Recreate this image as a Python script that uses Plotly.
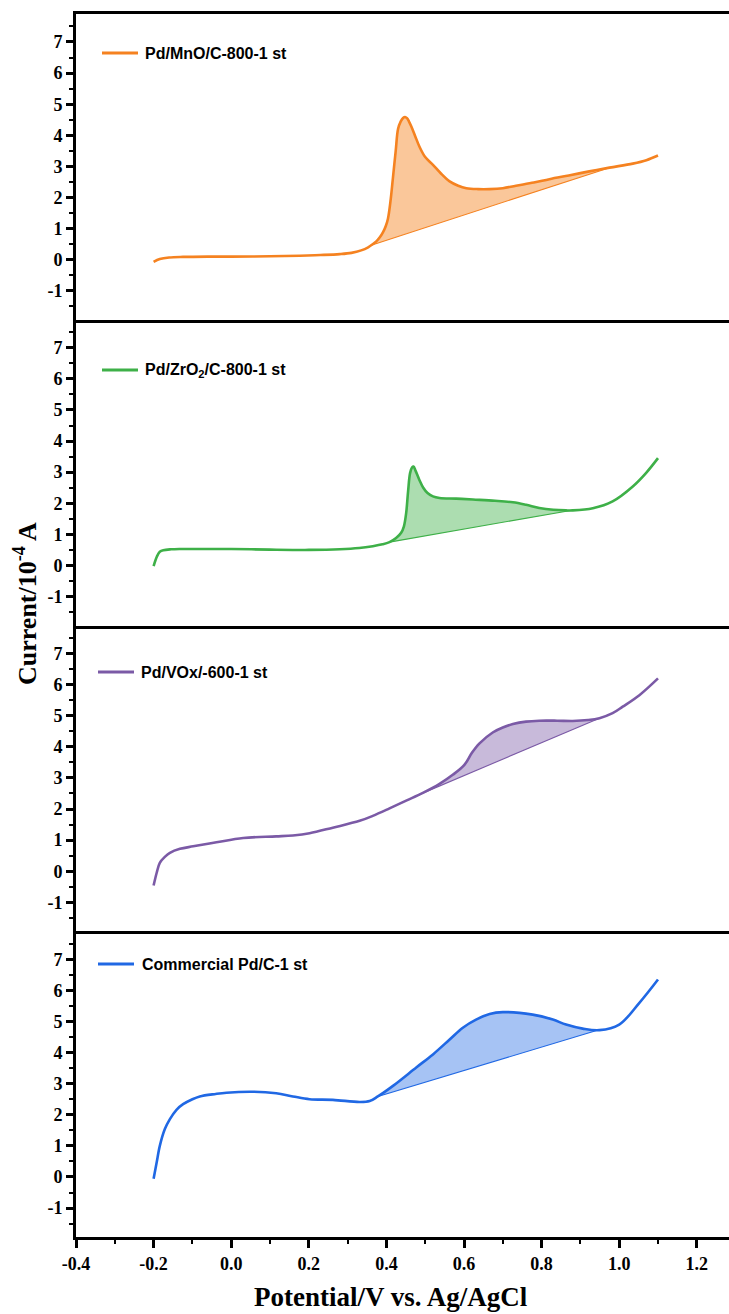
import numpy as np
import plotly.graph_objects as go

# ---- First-scan CV curves: potential (V vs. Ag/AgCl) and current (10^-4 A) ----
mno_v = [-0.2, -0.184, -0.16, -0.124, -0.06, 0.0, 0.1, 0.177, 0.23, 0.28, 0.31, 0.335,
         0.353, 0.365, 0.374, 0.383, 0.391, 0.398, 0.404, 0.411, 0.417, 0.424, 0.430,
         0.437, 0.443, 0.448, 0.453, 0.458, 0.464, 0.474, 0.485, 0.50, 0.52, 0.54, 0.563,
         0.585, 0.606, 0.636, 0.666, 0.70, 0.734, 0.78, 0.82, 0.87, 0.923, 0.975, 1.035,
         1.07, 1.1]
mno_i = [-0.07, 0.02, 0.07, 0.09, 0.10, 0.10, 0.11, 0.13, 0.15, 0.18, 0.22, 0.30,
         0.40, 0.50, 0.59, 0.72, 0.88, 1.07, 1.32, 1.93, 2.65, 3.5, 4.2,
         4.45, 4.56, 4.59, 4.55, 4.45, 4.29, 3.98, 3.64, 3.3, 3.05, 2.78, 2.52,
         2.38, 2.30, 2.27, 2.27, 2.30, 2.38, 2.48, 2.59, 2.71, 2.84, 2.96, 3.09,
         3.2, 3.35]

zro_v = [-0.2, -0.191, -0.184, -0.175, -0.155, -0.132, -0.1, 0.0, 0.1, 0.2, 0.28, 0.33,
         0.365, 0.39, 0.408, 0.425, 0.438, 0.445, 0.451, 0.456, 0.461, 0.466, 0.47,
         0.475, 0.485, 0.495, 0.506, 0.52, 0.537, 0.58, 0.623, 0.68, 0.726, 0.76, 0.794,
         0.83, 0.863, 0.88, 0.932, 0.983, 1.035, 1.069, 1.1]
zro_i = [-0.02, 0.30, 0.44, 0.49, 0.52, 0.53, 0.53, 0.53, 0.51, 0.50, 0.52, 0.56,
         0.62, 0.68, 0.75, 0.88, 1.05, 1.25, 1.69, 2.4, 2.97, 3.15, 3.18,
         3.05, 2.75, 2.5, 2.33, 2.22, 2.17, 2.15, 2.12, 2.08, 2.03, 1.95, 1.85,
         1.79, 1.77, 1.77, 1.84, 2.06, 2.54, 2.97, 3.45]

vox_v = [-0.2, -0.192, -0.184, -0.171, -0.158, -0.132, -0.098, -0.038, 0.031, 0.116,
         0.159, 0.202, 0.262, 0.331, 0.365, 0.408, 0.451, 0.494, 0.537, 0.571, 0.601,
         0.62, 0.64, 0.674, 0.70, 0.726, 0.76, 0.794, 0.84, 0.88, 0.92, 0.949, 0.983,
         1.009, 1.052, 1.1]
vox_i = [-0.46, -0.05, 0.27, 0.46, 0.59, 0.72, 0.80, 0.93, 1.07, 1.12,
         1.15, 1.22, 1.40, 1.62, 1.78, 2.02, 2.27, 2.52, 2.81, 3.10, 3.42,
         3.8, 4.11, 4.46, 4.62, 4.73, 4.81, 4.84, 4.84, 4.83, 4.86, 4.92, 5.08,
         5.29, 5.66, 6.2]

com_v = [-0.2, -0.192, -0.184, -0.171, -0.158, -0.141, -0.124, -0.1, -0.081, -0.04,
         -0.012, 0.056, 0.116, 0.159, 0.202, 0.262, 0.331, 0.357, 0.378, 0.417, 0.477,
         0.52, 0.563, 0.597, 0.631, 0.666, 0.70, 0.777, 0.829, 0.863, 0.906, 0.949, 1.0,
         1.052, 1.1]
com_i = [-0.06, 0.47, 1.0, 1.54, 1.86, 2.16, 2.34, 2.5, 2.59, 2.67,
         2.71, 2.74, 2.69, 2.59, 2.5, 2.48, 2.41, 2.44, 2.59, 2.93, 3.52,
         3.94, 4.42, 4.8, 5.06, 5.24, 5.3, 5.22, 5.06, 4.9, 4.77, 4.72, 4.9,
         5.6, 6.35]

# Potential limits of the linear baselines that bound each shaded oxidation peak
mno_base = [0.361, 0.975]
zro_base = [0.408, 0.875]
vox_base = [0.48, 0.949]
com_base = [0.378, 0.946]

series_names = ["Pd/MnO/C-800-1 st", "Pd/ZrO<sub>2</sub>/C-800-1 st",
                "Pd/VOx/-600-1 st", "Commercial Pd/C-1 st"]

# Axis ticks
x_ticks = [-0.4, -0.2, 0.0, 0.2, 0.4, 0.6, 0.8, 1.0, 1.2]
x_tick_labels = ["-0.4", "-0.2", "0.0", "0.2", "0.4", "0.6", "0.8", "1.0", "1.2"]
y_ticks = [-1, 0, 1, 2, 3, 4, 5, 6, 7]
y_tick_labels = ["-1", "0", "1", "2", "3", "4", "5", "6", "7"]

# ---- Styling ----
line_colors = ["rgb(245,130,32)", "rgb(62,176,72)", "rgb(123,90,166)", "rgb(32,104,228)"]
fill_colors = ["rgba(245,130,32,0.45)", "rgba(62,176,72,0.43)",
               "rgba(123,90,166,0.42)", "rgba(32,104,228,0.40)"]

W, H = 729, 1314
ML, MR, MT, MB = 76, 0, 14, 77
PW = W - ML - MR
PH = H - MT - MB
X_RANGE = [-0.4, 1.283]
Y_RANGE = [-1.93, 7.9]

SERIF = "Liberation Serif"
SANS = "Liberation Sans"
TICK_FONT = dict(family=SERIF, size=18, color="black", weight="bold")


def paper_x(px):
    return (px - ML) / PW


def paper_y(py):
    return (H - MB - py) / PH


curves = [(mno_v, mno_i, mno_base), (zro_v, zro_i, zro_base),
          (vox_v, vox_i, vox_base), (com_v, com_i, com_base)]

fig = go.Figure()
for k, (v, cur, base) in enumerate(curves):
    sfx = "" if k == 0 else str(k + 1)
    xa, ya = "x" + sfx, "y" + sfx
    color, fill = line_colors[k], fill_colors[k]

    # straight baseline under the peak
    by = [float(b) for b in np.interp(base, v, cur)]
    fig.add_trace(go.Scatter(x=base, y=by, mode="lines", xaxis=xa, yaxis=ya,
                             line=dict(color=color, width=1.1),
                             showlegend=False, hoverinfo="skip"))
    # shaded area between the curve and the baseline
    seg = [(a, b) for a, b in zip(v, cur) if base[0] < a < base[1]]
    sx = [base[0]] + [a for a, _ in seg] + [base[1]]
    sy = [by[0]] + [b for _, b in seg] + [by[1]]
    fig.add_trace(go.Scatter(x=sx, y=sy, mode="lines", xaxis=xa, yaxis=ya,
                             line=dict(color=color, width=0, shape="spline"),
                             fill="tonexty", fillcolor=fill,
                             showlegend=False, hoverinfo="skip"))
    # the voltammogram itself
    fig.add_trace(go.Scatter(x=v, y=cur, mode="lines", xaxis=xa, yaxis=ya,
                             line=dict(color=color, width=2.6, shape="spline"),
                             name=series_names[k], showlegend=False))

layout = dict(
    template="none",
    width=W, height=H,
    margin=dict(l=ML, r=MR, t=MT, b=MB, pad=0),
    paper_bgcolor="white", plot_bgcolor="white",
    showlegend=False,
)

for k in range(4):
    sfx = "" if k == 0 else str(k + 1)
    bottom = (k == 3)
    xaxis = dict(
        domain=[0, 1], anchor="y" + sfx, range=X_RANGE,
        showgrid=False, zeroline=False,
        showline=True, linecolor="black", linewidth=3,
        mirror=(k == 0),
    )
    if bottom:
        xaxis.update(
            tickmode="array", tickvals=x_ticks, ticktext=x_tick_labels,
            ticks="outside", ticklen=8, tickwidth=2.5, tickcolor="black",
            tickfont=TICK_FONT,
            minor=dict(dtick=0.1, tick0=-0.4, ticks="outside", ticklen=4,
                       tickwidth=2, tickcolor="black"),
        )
    else:
        xaxis.update(showticklabels=False, ticks="", matches="x4")
    layout["xaxis" + sfx] = xaxis

    layout["yaxis" + sfx] = dict(
        domain=[1 - (k + 1) / 4, 1 - k / 4], anchor="x" + sfx, range=Y_RANGE,
        showgrid=False, zeroline=False,
        showline=True, linecolor="black", linewidth=3, mirror=False,
        tickmode="array", tickvals=y_ticks, ticktext=y_tick_labels,
        ticks="outside", ticklen=7, tickwidth=2.5, tickcolor="black",
        tickfont=TICK_FONT,
        minor=dict(dtick=0.5, tick0=0, ticks="outside", ticklen=4,
                   tickwidth=2, tickcolor="black"),
    )

fig.update_layout(**layout)

# Legend entries (sample line + label) placed inside each panel
legend_pos = [  # (line x0, line x1, text x, y) in pixels
    (102, 138, 143, 53),
    (102, 138, 143, 370),
    (98, 134, 139, 672),
    (98, 134, 140, 964),
]
for k, (x0, x1, tx, y) in enumerate(legend_pos):
    fig.add_shape(type="line", xref="paper", yref="paper",
                  x0=paper_x(x0), x1=paper_x(x1), y0=paper_y(y), y1=paper_y(y),
                  line=dict(color=line_colors[k], width=3))
    fig.add_annotation(xref="paper", yref="paper", x=paper_x(tx), y=paper_y(y),
                       xanchor="left", yanchor="middle", showarrow=False,
                       text=series_names[k],
                       font=dict(family=SANS, size=16, color="black", weight="bold"))

# Axis titles
fig.add_annotation(xref="paper", yref="paper", x=paper_x(25), y=paper_y(604),
                   xanchor="center", yanchor="middle", showarrow=False, textangle=-90,
                   text="Current/10<sup>-4</sup> A",
                   font=dict(family=SERIF, size=26, color="black", weight="bold"))
fig.add_annotation(xref="paper", yref="paper", x=paper_x(391), y=paper_y(1297),
                   xanchor="center", yanchor="middle", showarrow=False,
                   text="Potential/V vs. Ag/AgCl",
                   font=dict(family=SERIF, size=27, color="black", weight="bold"))

fig.write_html("out.html")
